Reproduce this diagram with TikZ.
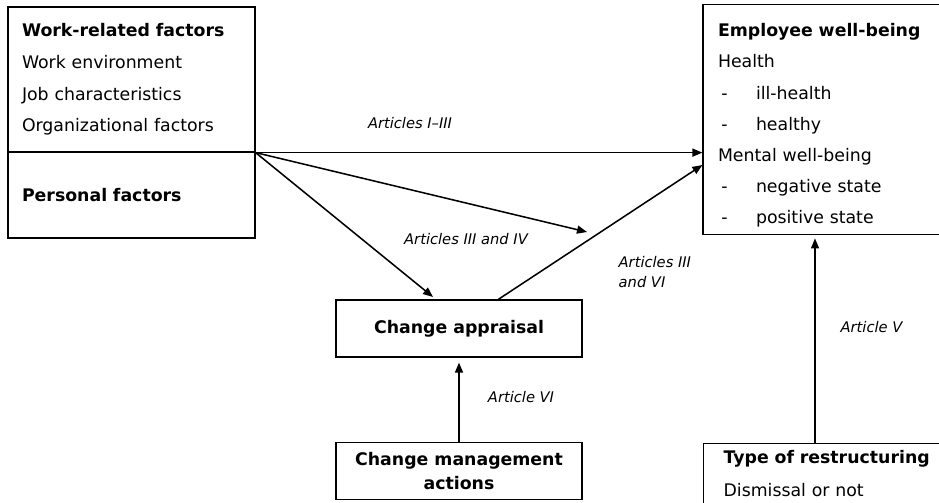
\documentclass[tikz,border=0pt]{standalone}
\usepackage{fontspec}
\setmainfont{DejaVu Sans}
\usetikzlibrary{arrows.meta,calc}
\newcommand{\dashitem}[1]{\makebox[28.5pt][l]{\hspace{2.6pt}-}#1}
\begin{document}
\begin{tikzpicture}[x=0.75pt,y=-0.75pt,
  box/.style={draw,line width=0.9pt,inner sep=0pt,font=\fontsize{13}{23.7}\selectfont},
  conn/.style={line width=1.15pt,-{Triangle[length=7.5pt,width=6pt]}},
  lab/.style={font=\fontsize{11}{15}\selectfont\itshape}]
\clip (0,0) rectangle (939,503);
\node[box, text width=164.25pt, inner xsep=10.5pt, minimum height=108.75pt, align=left] (work) at (131.5,79.5)
  {\textbf{Work-related factors}\\Work environment\\Job characteristics\\Organizational factors};
\node[box, text width=164.25pt, inner xsep=10.5pt, minimum height=64.5pt, align=left] (pers) at (131.5,195)
  {\textbf{Personal factors}};
\node[box, text width=162.75pt, inner xsep=11.25pt, minimum height=172.5pt, align=left, font=\fontsize{13}{23.4}\selectfont] (wb) at (826.5,119.5)
  {\rule{0pt}{19pt}\textbf{Employee well-being}\\Health\\\dashitem{ill-health}\\\dashitem{healthy}\\Mental well-being\\\dashitem{negative state}\\\dashitem{positive state}};
\node[box, minimum width=184.5pt, minimum height=42.75pt, align=center] (ca) at (459,328.5)
  {\textbf{Change appraisal}};
\node[box, minimum width=184.5pt, minimum height=42.75pt, align=center, font=\fontsize{13}{18}\selectfont] (cm) at (459,471)
  {\textbf{Change management}\\\textbf{actions}};
\node[box, anchor=north west, text width=200pt, inner xsep=15pt, inner ysep=5.25pt, align=left, font=\fontsize{13}{24.75}\selectfont] (rs) at (703,443)
  {\textbf{Type of restructuring}\\Dismissal or not\rule[-12pt]{0pt}{12pt}};
\coordinate (mid) at (587,232);
\coordinate (catop) at (433,297);
\draw[conn] (work.south east) -- (work.south east -| wb.west);
\draw[conn] (work.south east) -- (mid);
\draw[conn] (work.south east) -- (catop);
\draw[conn] ($(ca.north west)!0.659!(ca.north east)$) -- (wb.west |- 0,165);
\draw[conn,shorten >=3.75pt] (cm.north) -- (ca.south);
\draw[conn,shorten >=2.5pt] (rs.north -| 815,0) -- (wb.south -| 815,0);
\node[lab] (l1) at (410,123) {Articles I–III};
\node[lab] (l2) at (466,239) {Articles III and IV};
\node[lab, align=left, anchor=west] (l3) at (614,272) {Articles III\\and VI};
\node[lab] (l4) at (521,397) {Article VI};
\node[lab] (l5) at (871.5,327) {Article V};
\end{tikzpicture}
\end{document}
